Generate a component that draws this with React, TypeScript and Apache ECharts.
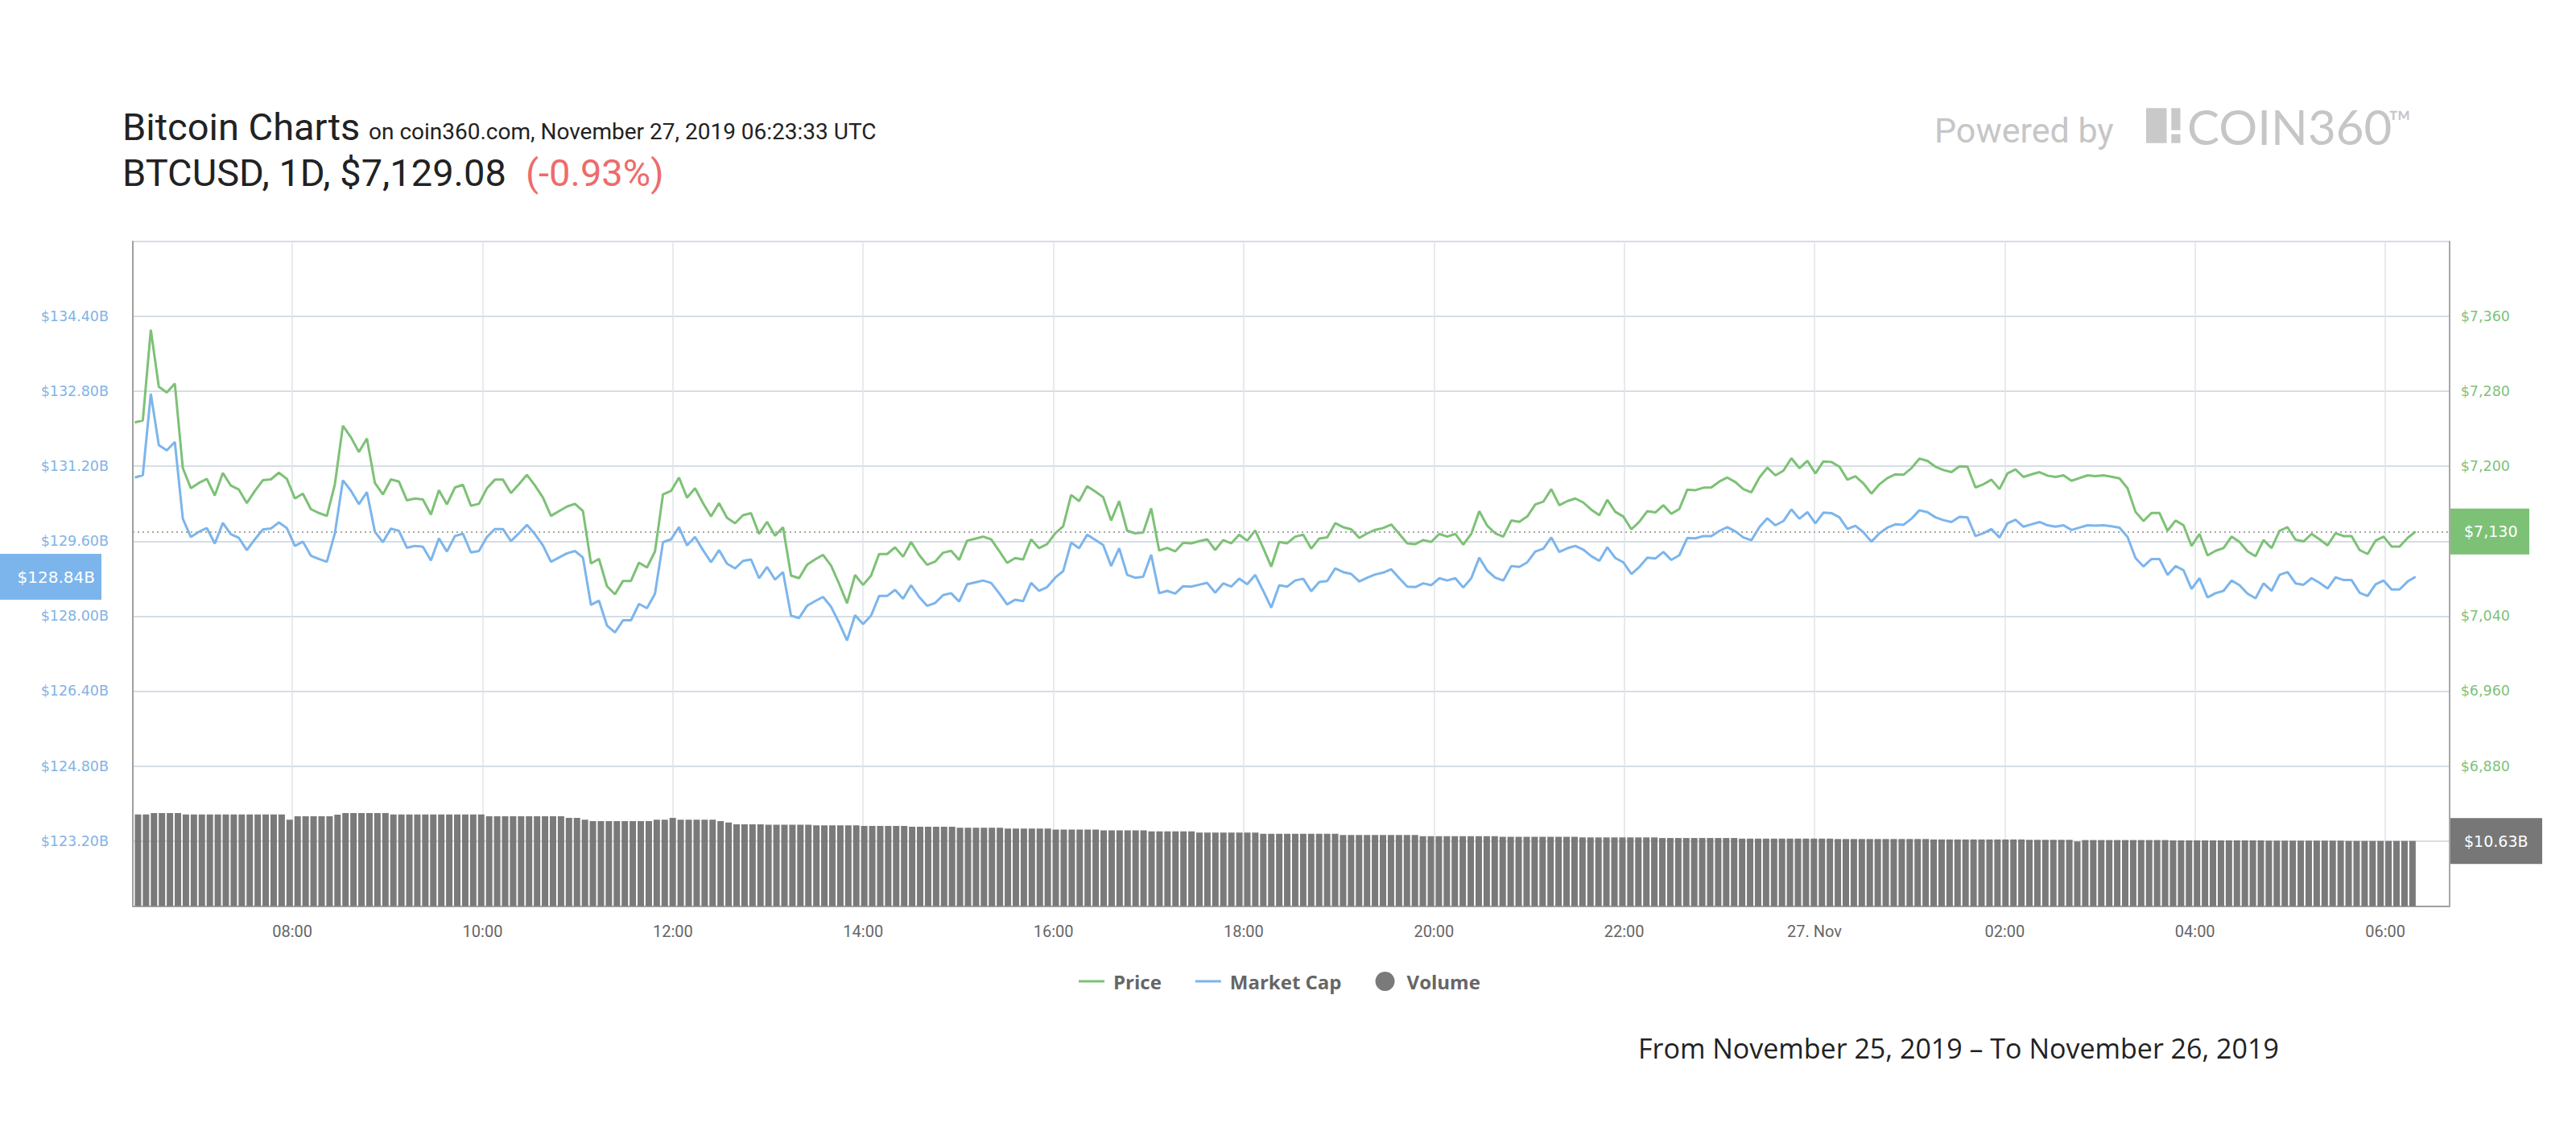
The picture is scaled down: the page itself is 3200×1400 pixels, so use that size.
import React, { useEffect, useRef } from "react";
import * as echarts from "echarts";

// ---- Data (5-minute samples, Nov 26 06:22 UTC -> Nov 27 06:17 UTC) ----
const PRICE = [
  7246.8, 7249.0, 7345.7, 7284.9, 7278.9, 7288.3, 7198.0, 7176.5, 7182.2, 7186.5,
  7168.8, 7192.9, 7179.4, 7175.1, 7160.7, 7173.6, 7185.1, 7186.0, 7193.1, 7186.5,
  7165.6, 7170.8, 7154.2, 7150.1, 7147.0, 7180.8, 7243.3, 7231.0, 7215.2, 7229.6,
  7182.2, 7169.9, 7186.0, 7183.7, 7163.6, 7165.6, 7164.5, 7148.4, 7174.5, 7159.3,
  7177.4, 7180.2, 7157.9, 7159.9, 7176.5, 7185.7, 7185.7, 7171.4, 7180.8, 7190.9,
  7179.4, 7166.5, 7147.0, 7152.1, 7157.0, 7159.9, 7152.1, 7096.2, 7101.1, 7071.9,
  7063.3, 7077.6, 7077.6, 7097.1, 7091.9, 7109.1, 7169.9, 7173.6, 7188.0, 7166.5,
  7176.5, 7160.7, 7146.4, 7160.7, 7145.0, 7139.2, 7147.8, 7149.9, 7127.8, 7140.7,
  7125.8, 7134.9, 7083.3, 7080.5, 7094.8, 7100.5, 7105.4, 7093.9, 7074.7, 7053.8,
  7083.9, 7073.3, 7083.3, 7106.3, 7106.3, 7113.4, 7103.4, 7119.2, 7105.4, 7094.8,
  7098.2, 7107.7, 7109.7, 7100.0, 7120.6, 7122.6, 7124.9, 7122.0, 7109.7, 7096.8,
  7102.0, 7100.5, 7122.0, 7112.6, 7116.9, 7128.4, 7135.8, 7169.4, 7162.8, 7178.8,
  7173.1, 7167.1, 7142.1, 7162.8, 7131.2, 7128.4, 7129.2, 7155.0, 7110.0, 7112.9,
  7109.1, 7118.3, 7117.7, 7120.0, 7122.0, 7110.6, 7121.2, 7117.7, 7126.9, 7120.6,
  7131.5, 7112.9, 7092.8, 7119.2, 7117.7, 7124.9, 7126.9, 7112.0, 7122.9, 7124.1,
  7139.2, 7134.9, 7132.7, 7123.5, 7128.4, 7132.1, 7134.1, 7137.8, 7127.8, 7117.7,
  7116.9, 7121.2, 7119.2, 7127.8, 7124.9, 7127.8, 7116.3, 7127.8, 7152.1, 7136.4,
  7128.4, 7124.9, 7142.1, 7140.7, 7146.4, 7159.3, 7162.2, 7175.6, 7158.4, 7162.8,
  7165.6, 7161.3, 7153.6, 7147.8, 7164.2, 7151.3, 7146.4, 7132.7, 7140.7, 7152.1,
  7150.7, 7158.4, 7149.3, 7154.4, 7175.1, 7174.5, 7177.1, 7177.4, 7183.7, 7188.0,
  7183.1, 7175.6, 7172.2, 7188.0, 7198.6, 7190.3, 7195.2, 7208.6, 7198.0, 7205.8,
  7192.3, 7205.2, 7204.6, 7199.5, 7185.7, 7189.4, 7181.7, 7170.8, 7180.8, 7187.4,
  7191.4, 7190.9, 7198.0, 7208.1, 7205.8, 7199.5, 7196.0, 7193.7, 7200.0, 7199.5,
  7177.4, 7180.8, 7185.7, 7175.6, 7192.3, 7196.6, 7188.6, 7191.4, 7193.7, 7190.0,
  7188.6, 7190.3, 7184.5, 7187.4, 7190.3, 7189.4, 7190.3, 7188.8, 7187.1, 7176.5,
  7151.3, 7141.5, 7150.1, 7150.1, 7131.2, 7142.1, 7137.0, 7114.9, 7127.8, 7104.8,
  7109.7, 7112.6, 7124.9, 7119.2, 7109.1, 7104.0, 7121.2, 7112.6, 7131.2, 7134.9,
  7121.5, 7119.8, 7127.8, 7122.0, 7115.5, 7128.6, 7125.5, 7125.5, 7110.6, 7106.3,
  7120.6, 7124.9, 7114.3, 7114.3, 7123.5, 7130.3,
];

const MARKET_CAP = [
  130.96, 131.01, 132.75, 131.65, 131.54, 131.72, 130.08, 129.69, 129.80, 129.88,
  129.55, 129.99, 129.75, 129.67, 129.41, 129.64, 129.85, 129.87, 130.00, 129.88,
  129.50, 129.59, 129.29, 129.22, 129.16, 129.77, 130.90, 130.68, 130.39, 130.65,
  129.80, 129.58, 129.87, 129.82, 129.46, 129.50, 129.48, 129.19, 129.66, 129.38,
  129.71, 129.76, 129.36, 129.39, 129.69, 129.86, 129.86, 129.60, 129.77, 129.95,
  129.75, 129.51, 129.16, 129.25, 129.34, 129.39, 129.25, 128.24, 128.33, 127.80,
  127.65, 127.91, 127.91, 128.26, 128.17, 128.48, 129.58, 129.64, 129.90, 129.51,
  129.69, 129.41, 129.15, 129.41, 129.12, 129.02, 129.18, 129.21, 128.81, 129.05,
  128.78, 128.94, 128.01, 127.96, 128.22, 128.32, 128.41, 128.20, 127.86, 127.48,
  128.02, 127.83, 128.01, 128.43, 128.43, 128.56, 128.37, 128.66, 128.41, 128.22,
  128.28, 128.45, 128.49, 128.31, 128.68, 128.72, 128.76, 128.71, 128.49, 128.25,
  128.35, 128.32, 128.71, 128.54, 128.62, 128.82, 128.96, 129.57, 129.45, 129.74,
  129.63, 129.52, 129.07, 129.45, 128.88, 128.82, 128.84, 129.31, 128.49, 128.54,
  128.48, 128.64, 128.63, 128.67, 128.71, 128.50, 128.70, 128.63, 128.80, 128.68,
  128.88, 128.54, 128.18, 128.66, 128.63, 128.76, 128.80, 128.53, 128.73, 128.75,
  129.02, 128.94, 128.90, 128.74, 128.82, 128.89, 128.93, 129.00, 128.81, 128.63,
  128.62, 128.70, 128.66, 128.81, 128.76, 128.81, 128.61, 128.81, 129.25, 128.97,
  128.82, 128.76, 129.07, 129.05, 129.15, 129.38, 129.44, 129.68, 129.37, 129.45,
  129.50, 129.42, 129.28, 129.18, 129.47, 129.24, 129.15, 128.90, 129.05, 129.25,
  129.23, 129.37, 129.20, 129.30, 129.67, 129.66, 129.71, 129.71, 129.82, 129.90,
  129.81, 129.68, 129.62, 129.90, 130.09, 129.94, 130.03, 130.28, 130.08, 130.22,
  129.98, 130.21, 130.20, 130.11, 129.86, 129.93, 129.79, 129.59, 129.77, 129.89,
  129.96, 129.95, 130.08, 130.26, 130.22, 130.11, 130.05, 130.01, 130.12, 130.11,
  129.71, 129.77, 129.86, 129.68, 129.98, 130.06, 129.91, 129.96, 130.01, 129.94,
  129.91, 129.94, 129.84, 129.89, 129.94, 129.93, 129.94, 129.92, 129.89, 129.69,
  129.24, 129.06, 129.22, 129.22, 128.88, 129.07, 128.98, 128.58, 128.81, 128.40,
  128.49, 128.54, 128.76, 128.66, 128.48, 128.38, 128.70, 128.54, 128.88, 128.94,
  128.70, 128.67, 128.81, 128.71, 128.59, 128.83, 128.77, 128.77, 128.50, 128.43,
  128.68, 128.76, 128.57, 128.57, 128.74, 128.84,
];

const VOLUME = [
  14.97, 14.97, 15.19, 15.19, 15.19, 15.19, 14.97, 14.97, 14.97, 14.97,
  14.97, 14.97, 14.97, 14.97, 14.97, 14.97, 14.97, 14.97, 14.97, 14.10,
  14.66, 14.66, 14.66, 14.66, 14.66, 14.93, 15.19, 15.19, 15.19, 15.19,
  15.19, 15.19, 14.97, 14.97, 14.97, 14.97, 14.97, 14.97, 14.97, 14.97,
  14.97, 14.97, 14.97, 14.97, 14.66, 14.66, 14.66, 14.66, 14.66, 14.66,
  14.66, 14.66, 14.66, 14.66, 14.40, 14.40, 14.10, 13.87, 13.87, 13.87,
  13.87, 13.87, 13.87, 13.87, 13.87, 14.10, 14.10, 14.40, 14.10, 14.10,
  14.10, 14.10, 14.10, 13.87, 13.65, 13.35, 13.35, 13.35, 13.35, 13.28,
  13.28, 13.28, 13.28, 13.28, 13.28, 13.20, 13.20, 13.20, 13.20, 13.20,
  13.20, 13.10, 13.10, 13.10, 13.10, 13.10, 13.10, 12.95, 12.95, 12.95,
  12.95, 12.95, 12.95, 12.80, 12.80, 12.80, 12.80, 12.80, 12.80, 12.65,
  12.65, 12.65, 12.65, 12.65, 12.65, 12.50, 12.50, 12.50, 12.50, 12.50,
  12.50, 12.35, 12.35, 12.35, 12.35, 12.35, 12.35, 12.20, 12.20, 12.20,
  12.20, 12.20, 12.20, 12.00, 12.00, 12.00, 12.00, 12.00, 12.00, 12.00,
  12.00, 11.80, 11.80, 11.80, 11.80, 11.80, 11.80, 11.80, 11.80, 11.80,
  11.80, 11.60, 11.60, 11.60, 11.60, 11.60, 11.60, 11.60, 11.60, 11.60,
  11.60, 11.40, 11.40, 11.40, 11.40, 11.40, 11.40, 11.40, 11.40, 11.40,
  11.40, 11.30, 11.30, 11.30, 11.30, 11.30, 11.30, 11.30, 11.30, 11.30,
  11.30, 11.20, 11.20, 11.20, 11.20, 11.20, 11.20, 11.20, 11.20, 11.20,
  11.20, 11.12, 11.12, 11.12, 11.12, 11.12, 11.12, 11.12, 11.12, 11.12,
  11.12, 11.02, 11.02, 11.02, 11.02, 11.02, 11.02, 11.02, 11.02, 11.02,
  11.02, 11.02, 11.02, 10.95, 10.95, 10.95, 10.95, 10.95, 10.95, 10.95,
  10.95, 10.95, 10.95, 10.95, 10.95, 10.88, 10.88, 10.88, 10.88, 10.88,
  10.88, 10.88, 10.88, 10.88, 10.88, 10.88, 10.88, 10.82, 10.82, 10.82,
  10.82, 10.82, 10.82, 10.55, 10.78, 10.78, 10.78, 10.78, 10.78, 10.78,
  10.78, 10.78, 10.78, 10.78, 10.78, 10.72, 10.72, 10.72, 10.72, 10.72,
  10.72, 10.72, 10.72, 10.72, 10.72, 10.72, 10.72, 10.68, 10.68, 10.68,
  10.68, 10.68, 10.68, 10.68, 10.68, 10.68, 10.68, 10.63, 10.63, 10.63,
  10.63, 10.63, 10.63, 10.63, 10.63, 10.63,
];

const START_TIME = Date.UTC(2019, 10, 26, 6, 22, 40);
const STEP_MS = 302 * 1000;
const X_MIN = Date.UTC(2019, 10, 26, 6, 21, 25);
const X_MAX = Date.UTC(2019, 10, 27, 6, 38, 24);

const MCAP_AXIS = { min: 123.2, max: 136.0, interval: 1.6 };
const PRICE_AXIS = { min: 6800, max: 7440, interval: 80 };
const VOLUME_AXIS = { min: 0, max: 108.48 };

const MONTHS = ["Jan", "Feb", "Mar", "Apr", "May", "Jun", "Jul", "Aug", "Sep", "Oct", "Nov", "Dec"];
const SERIES_NAMES = ["Price", "Market Cap", "Volume"];

const TITLE = "Bitcoin Charts";
const SUBTITLE = "on coin360.com, November 27, 2019 06:23:33 UTC";
const TICKER_LINE = "BTCUSD, 1D, $7,129.08";
const CHANGE_TEXT = "(-0.93%)";
const RANGE_TEXT = "From November 25, 2019 \u2013 To November 26, 2019";

const GREEN = "#7dc176";
const BLUE = "#7cb5ec";
const GRAY_BAR = "#707070";

function withCommas(n: number): string {
  const s = String(Math.round(n));
  return s.replace(/\B(?=(\d{3})+(?!\d))/g, ",");
}

function pad2(n: number): string {
  return n < 10 ? "0" + n : String(n);
}

export default function App() {
  const ref = useRef<HTMLDivElement>(null);

  useEffect(() => {
    if (!ref.current) return;
    const chart = echarts.init(ref.current, undefined, { renderer: "svg", width: 3200, height: 1400 });

    const times = PRICE.map((_, i) => START_TIME + i * STEP_MS);
    const priceData = PRICE.map((v, i) => [times[i], v]);
    const mcapData = MARKET_CAP.map((v, i) => [times[i], v]);
    const volData = VOLUME.map((v, i) => [times[i], v]);
    const n = PRICE.length - 1;
    const lastPrice = PRICE[n];
    const lastMcap = MARKET_CAP[n];
    const lastVol = VOLUME[n];

    const gridLeft = 165;
    const gridRight = 3200 - 3042.7;

    const option: any = {
      animation: false,
      useUTC: true,
      backgroundColor: "#ffffff",
      textStyle: { fontFamily: "Roboto" },
      grid: [
        { left: gridLeft, right: gridRight, top: 300, bottom: 1400 - 1044.6 },
        { left: gridLeft, right: gridRight, top: 300, bottom: 1400 - 1125.6 },
      ],
      legend: {
        left: 1340,
        top: 1207,
        padding: 0,
        itemWidth: 32,
        itemHeight: 24,
        itemGap: 42,
        selectedMode: false,
        textStyle: {
          color: "#666666",
          fontFamily: "Open Sans",
          fontWeight: "bold",
          fontSize: 24,
          padding: [0, 0, 0, 6],
        },
        data: [
          { name: SERIES_NAMES[0], icon: "path://M0,0H32V3H0Z" },
          { name: SERIES_NAMES[1], icon: "path://M0,0H32V3H0Z" },
          { name: SERIES_NAMES[2], icon: "circle" },
        ],
      },
      xAxis: [
        {
          type: "time",
          gridIndex: 0,
          min: X_MIN,
          max: X_MAX,
          show: false,
        },
        {
          type: "time",
          gridIndex: 1,
          min: X_MIN,
          max: X_MAX,
          minInterval: 2.6 * 3600 * 1000,
          maxInterval: 3 * 3600 * 1000,
          splitNumber: 9,
          axisLine: { show: true, lineStyle: { color: "#a0a0a0", width: 2 } },
          axisTick: { show: false },
          axisLabel: {
            color: "#666666",
            fontFamily: "Roboto",
            fontSize: 20,
            margin: 21,
            formatter: (v: number) => {
              const d = new Date(v);
              if (d.getUTCMinutes() !== 0 || d.getUTCSeconds() !== 0 || d.getUTCHours() % 2 !== 0) return "";
              if (d.getUTCHours() === 0) return d.getUTCDate() + ". " + MONTHS[d.getUTCMonth()];
              return pad2(d.getUTCHours()) + ":00";
            },
          },
          splitLine: { show: true, lineStyle: { color: "#e1e4e8", width: 1.5 } },
        },
      ],
      yAxis: [
        {
          type: "value",
          gridIndex: 0,
          position: "left",
          min: MCAP_AXIS.min,
          max: MCAP_AXIS.max,
          interval: MCAP_AXIS.interval,
          axisLine: { show: false },
          axisTick: { show: false },
          axisLabel: {
            color: "#82b3e6",
            fontFamily: "DejaVu Sans",
            fontSize: 17.5,
            margin: 30,
            showMaxLabel: false,
            formatter: (v: number) => "$" + v.toFixed(2) + "B",
          },
          splitLine: { show: true, lineStyle: { color: "#d6dde6", width: 2 } },
        },
        {
          type: "value",
          gridIndex: 0,
          position: "right",
          min: PRICE_AXIS.min,
          max: PRICE_AXIS.max,
          interval: PRICE_AXIS.interval,
          axisLine: { show: false },
          axisTick: { show: false },
          axisLabel: {
            color: "#80c27b",
            fontFamily: "DejaVu Sans",
            fontSize: 17.5,
            margin: 14,
            showMaxLabel: false,
            showMinLabel: false,
            formatter: (v: number) => (Math.abs(v - lastPrice) < 40 ? "" : "$" + withCommas(v)),
          },
          splitLine: { show: false },
        },
        {
          type: "value",
          gridIndex: 1,
          position: "left",
          min: VOLUME_AXIS.min,
          max: VOLUME_AXIS.max,
          axisLine: { show: true, lineStyle: { color: "#a0a0a0", width: 2 } },
          axisTick: { show: false },
          axisLabel: { show: false },
          splitLine: { show: false },
        },
        {
          type: "value",
          gridIndex: 1,
          position: "right",
          min: 0,
          max: 1,
          axisLine: { show: true, lineStyle: { color: "#a8a8a8", width: 2 } },
          axisTick: { show: false },
          axisLabel: { show: false },
          splitLine: { show: false },
        },
      ],
      series: [
        {
          name: SERIES_NAMES[2],
          type: "bar",
          xAxisIndex: 1,
          yAxisIndex: 2,
          data: volData,
          barWidth: 8,
          color: GRAY_BAR,
          itemStyle: { color: GRAY_BAR, opacity: 0.93 },
          silent: true,
          z: 1,
        },
        {
          name: SERIES_NAMES[1],
          type: "line",
          xAxisIndex: 0,
          yAxisIndex: 0,
          data: mcapData,
          showSymbol: false,
          symbol: "none",
          color: BLUE,
          itemStyle: { color: BLUE },
          lineStyle: { color: BLUE, width: 3 },
          silent: true,
          z: 3,
        },
        {
          name: SERIES_NAMES[0],
          type: "line",
          xAxisIndex: 0,
          yAxisIndex: 1,
          data: priceData,
          showSymbol: false,
          symbol: "none",
          color: GREEN,
          itemStyle: { color: GREEN },
          lineStyle: { color: GREEN, width: 3 },
          silent: true,
          z: 4,
          markLine: {
            silent: true,
            symbol: ["none", "none"],
            label: { show: false },
            lineStyle: { color: "#a8a8a8", type: [2, 4], width: 2 },
            data: [{ yAxis: lastPrice }],
          },
        },
      ],
    };

    chart.setOption(option);

    const yM = chart.convertToPixel({ yAxisIndex: 0 }, lastMcap) as number;
    const yP = chart.convertToPixel({ yAxisIndex: 1 }, lastPrice) as number;
    const yV = chart.convertToPixel({ yAxisIndex: 2 }, lastVol) as number;

    const text = (
      t: string,
      x: number,
      y: number,
      size: number,
      fill: string,
      family = "Roboto",
      weight: any = "normal",
      align = "left"
    ) => ({
      type: "text",
      x,
      y,
      silent: true,
      z: 20,
      style: { text: t, fill, fontSize: size, fontFamily: family, fontWeight: weight, align, verticalAlign: "middle" },
    });
    const rect = (x: number, y: number, w: number, h: number, fill: string) => ({
      type: "rect",
      silent: true,
      z: 19,
      shape: { x, y, width: w, height: h },
      style: { fill },
    });

    const boxH = 57;
    chart.setOption({
      graphic: [
        text(TITLE, 152, 157, 47, "#222222"),
        text(SUBTITLE, 458, 163.5, 28, "#222222"),
        text(TICKER_LINE, 152, 214.5, 47, "#222222"),
        text(CHANGE_TEXT, 653, 214.5, 47, "#ee6b6b"),
        text("Powered by", 2403, 161.5, 43, "#c6c6c6", "Roboto", "normal"),
        rect(2666, 134.3, 25.5, 43.4, "#c9c9c9"),
        rect(2697.3, 134.3, 11.2, 27.4, "#c9c9c9"),
        rect(2697.3, 166.7, 11.2, 11, "#c9c9c9"),
        text("COIN360", 2717, 157, 60, "#c6c6c6", "Lato", "normal"),
        text("\u2122", 2967, 150, 38, "#c6c6c6", "Lato", "normal"),
        text(RANGE_TEXT, 2035, 1302, 34, "#222222", "Open Sans"),
        rect(0, yM - boxH / 2, 126, boxH, BLUE),
        text("$" + lastMcap.toFixed(2) + "B", 118, yM, 20, "#ffffff", "DejaVu Sans", "normal", "right"),
        rect(3044, yP - boxH / 2, 98, boxH, GREEN),
        text("$" + withCommas(lastPrice), 3061, yP, 19, "#ffffff", "DejaVu Sans"),
        rect(3044, yV - boxH / 2, 114, boxH, "#777777"),
        text("$" + lastVol.toFixed(2) + "B", 3061, yV, 19, "#ffffff", "DejaVu Sans"),
      ],
    });

    return () => {
      chart.dispose();
    };
  }, []);

  return (
    <div
      ref={ref}
      style={{ position: "absolute", left: 0, top: 0, width: 3200, height: 1400, background: "#ffffff" }}
    />
  );
}
